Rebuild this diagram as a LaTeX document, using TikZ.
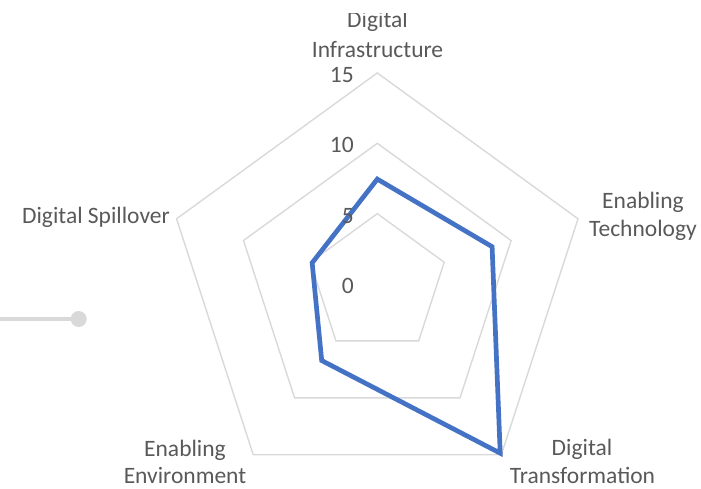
\documentclass[tikz,border=0pt]{standalone}
\usepackage{fontspec}
\setmainfont{Carlito}
\definecolor{ringgray}{HTML}{D9D9D9}
\definecolor{labelgray}{HTML}{595959}
\definecolor{serieblue}{HTML}{4472C4}
\begin{document}
\begin{tikzpicture}[x=1pt,y=-1pt,
  ring/.style={draw=ringgray, line width=1.4pt, line join=miter},
  serie/.style={draw=serieblue, line width=4.7pt, line join=miter},
  lbl/.style={font=\fontsize{23.5}{28.5}\selectfont, text=labelgray, inner sep=0pt},
  tick/.style={lbl, anchor=east},
  cat/.style={lbl, anchor=base}]
\useasboundingbox (0,0) rectangle (701,488);
\begin{scope}[shift={(377.3,284)}]
  % rings at 5, 10, 15
  \foreach \r in {70.35,140.7,211.05}{
    \draw[ring] (-90:\r) -- (-18:\r) -- (54:\r) -- (126:\r) -- (198:\r) -- cycle;
  }
  % data points (scale 14.07 per unit)
  \coordinate (di) at (-90:104.9);
  \coordinate (et) at (-18:120.7);
  \coordinate (dt) at (54:209.1);
  \coordinate (ee) at (126:94.6);
  \coordinate (ds) at (198:68.5);
\end{scope}
\draw[serie] (di) -- (et) -- (dt) -- (ee) -- (ds) -- cycle;
% tick labels
\node[tick] (t15) at (354,75) {15};
\node[tick] (t10) at (354,145) {10};
\node[tick] (t5) at (354,216) {5};
\node[tick] (t0) at (354,286) {0};
% category labels
\begin{scope}
  \clip (0,13.5) rectangle (701,488);
  \node[cat] (di1) at (377.5,27) {Digital};
\end{scope}
\node[cat] (di2) at (377.5,57) {Infrastructure};
\node[cat] (et1) at (643,208.3) {Enabling};
\node[cat] (et2) at (643,236.8) {Technology};
\node[cat] (dt1) at (582,455) {Digital};
\node[cat] (dt2) at (582.5,483.5) {Transformation};
\node[cat] (ee1) at (185,456.5) {Enabling};
\node[cat] (ee2) at (185,483.8) {Environment};
\node[cat] (ds1) at (96,223.3) {Digital Spillover};
% legend fragment
\coordinate (l0) at (0,319);
\node[circle, fill=ringgray, minimum size=16pt, inner sep=0pt] (ldot) at (78.7,319) {};
\draw[ringgray, line width=4pt] (l0) -- (ldot);
\end{tikzpicture}
\end{document}
